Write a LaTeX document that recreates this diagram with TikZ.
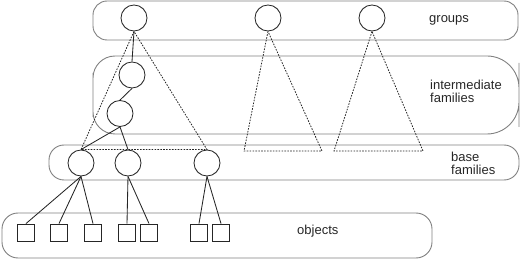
\documentclass[tikz,border=0pt]{standalone}
\usepackage{fontspec}
\setmainfont{Liberation Sans}
\usepackage{tikz}

\begin{document}
\begin{tikzpicture}[x=1pt,y=-1pt,font=\fontsize{13}{13}\selectfont,
  band/.style={rectangle,rounded corners=14pt,draw=black!50,line width=0.9pt},
  setnode/.style={circle,draw=black!85,line width=0.85pt,minimum size=26pt,inner sep=0pt},
  objnode/.style={rectangle,draw=black!85,line width=0.85pt,minimum size=17pt,inner sep=0pt},
  link/.style={draw=black!85,line width=0.85pt},
  cone/.style={draw=black!85,line width=0.8pt,dash pattern=on 1.6pt off 1.3pt},
  tag/.style={anchor=base west,align=left,text=black!85,inner sep=0pt}]
\useasboundingbox (0,0) rectangle (520,259);
% layers
\node[band,minimum width=425pt,minimum height=39pt] (groupsband) at (305.5,20.5) {};
\draw[draw=black!50,line width=0.9pt,rounded corners=22pt] (300,56) -| (93,95) |- (300,134) [rounded corners=32pt] -| (519,95) |- (300,56);
\node[band,rounded corners=15pt,minimum width=470pt,minimum height=35pt] (baseband) at (284,162.5) {};
\node[band,rounded corners=16pt,minimum width=430pt,minimum height=45pt] (objectsband) at (217,235.5) {};
% sets
\node[setnode] (group1) at (134,18) {};
\node[setnode] (group2) at (268,18) {};
\node[setnode] (group3) at (372,18) {};
\node[setnode] (inter1) at (132,75) {};
\node[setnode] (inter2) at (120,113.5) {};
\node[setnode] (base1) at (81,163) {};
\node[setnode] (base2) at (128,163) {};
\node[setnode] (base3) at (207,163) {};
% objects
\node[objnode] (obj1) at (26,232.5) {};
\node[objnode] (obj2) at (59,232.5) {};
\node[objnode] (obj3) at (93,232.5) {};
\node[objnode] (obj4) at (127,232.5) {};
\node[objnode] (obj5) at (149,232.5) {};
\node[objnode] (obj6) at (199,232.5) {};
\node[objnode] (obj7) at (221,232.5) {};
% cones
\coordinate (cone2l) at (244,151);
\coordinate (cone2r) at (322,151);
\coordinate (cone3l) at (334,151);
\coordinate (cone3r) at (423,151);
\draw[cone] (group1.south) -- (base1.north) -- (base3.north) -- cycle;
\draw[cone] (group2.south) -- (cone2l) -- (cone2r) -- cycle;
\draw[cone] (group3.south) -- (cone3l) -- (cone3r) -- cycle;
% links
\draw[link] (group1.south) -- (inter1.north);
\draw[link] (inter1.south) -- (inter2.north);
\draw[link] (inter2.south) -- (base1.north);
\draw[link] (inter2.south) -- (base2.north);
\draw[link] (base1.south) -- (obj1.north);
\draw[link] (base1.south) -- (obj2.north);
\draw[link] (base1.south) -- (obj3.north);
\draw[link] (base2.south) -- (obj4.north);
\draw[link] (base2.south) -- (obj5.north);
\draw[link] (base3.south) -- (obj6.north);
\draw[link] (base3.south) -- (obj7.north);
% labels
\node[tag] (groupslabel) at (429,23) {groups};
\node[tag] (interlabel) at (430,103) {intermediate\\families};
\node[tag] (baselabel) at (451,175) {base\\families};
\node[tag] (objectslabel) at (297,234) {objects};
\end{tikzpicture}
\end{document}
